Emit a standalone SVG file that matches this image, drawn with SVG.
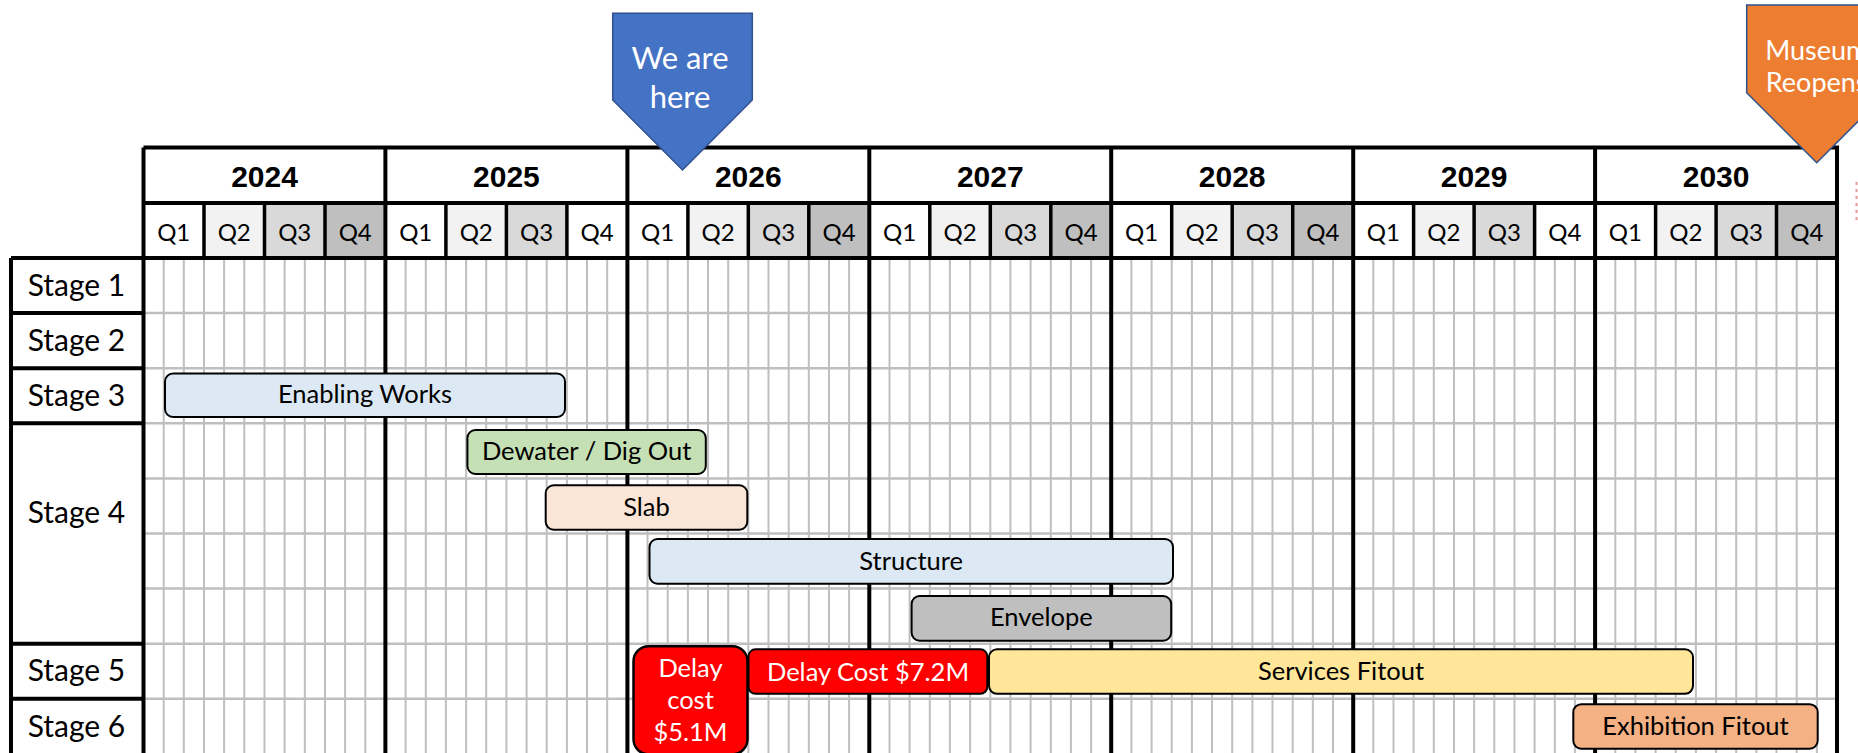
<svg xmlns="http://www.w3.org/2000/svg" width="1858" height="753" viewBox="0 0 1858 753">
<style>
.lt{font-family:Lato,"Liberation Sans",sans-serif;font-weight:400;text-anchor:middle;fill:#000}
.yr{font-family:"Liberation Sans",Arial,sans-serif;font-weight:bold;font-size:30px;text-anchor:middle;fill:#000}
.q{font-size:24px}
.st{font-size:30px}
.bt{font-size:25.5px}
.wt{fill:#fff}
.thin{stroke:#bfbfbf;stroke-width:2;fill:none}
.hthin{stroke:#bfbfbf;stroke-width:2.5;fill:none}
.blk{stroke:#000;stroke-width:4;fill:none}
.bar{stroke:#000;stroke-width:2}
.mk{stroke:#2f528f;stroke-width:1.5}
</style>
<rect width="1858" height="753" fill="#fff"/>
<g id="grid">
<path class="thin" d="M163.7 258V753M183.8 258V753M204 258V753M224.1 258V753M244.3 258V753M264.5 258V753M284.6 258V753M304.8 258V753M325 258V753M345.1 258V753M365.3 258V753M405.6 258V753M425.8 258V753M445.9 258V753M466.1 258V753M486.2 258V753M506.4 258V753M526.6 258V753M546.7 258V753M566.9 258V753M587 258V753M607.2 258V753M647.5 258V753M667.7 258V753M687.9 258V753M708 258V753M728.2 258V753M748.3 258V753M768.5 258V753M788.7 258V753M808.8 258V753M829 258V753M849.1 258V753M889.5 258V753M909.6 258V753M929.8 258V753M949.9 258V753M970.1 258V753M990.3 258V753M1010.4 258V753M1030.6 258V753M1050.8 258V753M1070.9 258V753M1091.1 258V753M1131.4 258V753M1151.6 258V753M1171.7 258V753M1191.9 258V753M1212 258V753M1232.2 258V753M1252.4 258V753M1272.5 258V753M1292.7 258V753M1312.8 258V753M1333 258V753M1373.3 258V753M1393.5 258V753M1413.6 258V753M1433.8 258V753M1454 258V753M1474.1 258V753M1494.3 258V753M1514.5 258V753M1534.6 258V753M1554.8 258V753M1574.9 258V753M1615.3 258V753M1635.4 258V753M1655.6 258V753M1675.7 258V753M1695.9 258V753M1716.1 258V753M1736.2 258V753M1756.4 258V753M1776.5 258V753M1796.7 258V753M1816.9 258V753"/>
<path class="hthin" d="M143.5 313.1H1837M143.5 368.2H1837M143.5 423.3H1837M143.5 478.4H1837M143.5 533.5H1837M143.5 588.6H1837M143.5 643.7H1837M143.5 698.8H1837"/>
</g>
<g id="quarter-fills">
<rect x="203.98" y="203" width="60.49" height="55" fill="#f2f2f2"/>
<rect x="264.47" y="203" width="60.48" height="55" fill="#d9d9d9"/>
<rect x="324.95" y="203" width="60.48" height="55" fill="#bfbfbf"/>
<rect x="445.92" y="203" width="60.48" height="55" fill="#f2f2f2"/>
<rect x="506.40" y="203" width="60.48" height="55" fill="#d9d9d9"/>
<rect x="687.85" y="203" width="60.48" height="55" fill="#f2f2f2"/>
<rect x="748.33" y="203" width="60.48" height="55" fill="#d9d9d9"/>
<rect x="808.81" y="203" width="60.49" height="55" fill="#bfbfbf"/>
<rect x="929.78" y="203" width="60.48" height="55" fill="#f2f2f2"/>
<rect x="990.26" y="203" width="60.49" height="55" fill="#d9d9d9"/>
<rect x="1050.75" y="203" width="60.48" height="55" fill="#bfbfbf"/>
<rect x="1171.71" y="203" width="60.48" height="55" fill="#f2f2f2"/>
<rect x="1232.19" y="203" width="60.49" height="55" fill="#d9d9d9"/>
<rect x="1292.68" y="203" width="60.48" height="55" fill="#bfbfbf"/>
<rect x="1413.64" y="203" width="60.49" height="55" fill="#f2f2f2"/>
<rect x="1474.13" y="203" width="60.48" height="55" fill="#d9d9d9"/>
<rect x="1655.58" y="203" width="60.48" height="55" fill="#f2f2f2"/>
<rect x="1716.06" y="203" width="60.48" height="55" fill="#d9d9d9"/>
<rect x="1776.54" y="203" width="60.48" height="55" fill="#bfbfbf"/>
</g>
<g id="frame">
<path class="blk" d="M143.5 147.5H1837V753M143.5 147.5V753M143.5 203H1837M11 258H1837M385.4 147.5V753M627.4 147.5V753M869.3 147.5V753M1111.2 147.5V753M1353.2 147.5V753M1595.1 147.5V753"/>
<path class="blk" style="stroke-width:3.5" d="M204 203V258M264.5 203V258M325 203V258M445.9 203V258M506.4 203V258M566.9 203V258M687.9 203V258M748.3 203V258M808.8 203V258M929.8 203V258M990.3 203V258M1050.8 203V258M1171.7 203V258M1232.2 203V258M1292.7 203V258M1413.6 203V258M1474.1 203V258M1534.6 203V258M1655.6 203V258M1716.1 203V258M1776.5 203V258"/>
<path class="blk" d="M11 258V753M11 313.1H143.5M11 368.2H143.5M11 423.3H143.5M11 643.7H143.5M11 698.8H143.5"/>
</g>
<g id="years">
<text class="yr" x="264.5" y="187">2024</text>
<text class="yr" x="506.4" y="187">2025</text>
<text class="yr" x="748.3" y="187">2026</text>
<text class="yr" x="990.3" y="187">2027</text>
<text class="yr" x="1232.2" y="187">2028</text>
<text class="yr" x="1474.1" y="187">2029</text>
<text class="yr" x="1716.1" y="187">2030</text>
</g>
<g id="quarters" class="lt q">
<text x="173.7" y="240.5">Q1</text><text x="234.2" y="240.5">Q2</text><text x="294.7" y="240.5">Q3</text><text x="355.2" y="240.5">Q4</text>
<text x="415.7" y="240.5">Q1</text><text x="476.2" y="240.5">Q2</text><text x="536.6" y="240.5">Q3</text><text x="597.1" y="240.5">Q4</text>
<text x="657.6" y="240.5">Q1</text><text x="718.1" y="240.5">Q2</text><text x="778.6" y="240.5">Q3</text><text x="839.1" y="240.5">Q4</text>
<text x="899.5" y="240.5">Q1</text><text x="960" y="240.5">Q2</text><text x="1020.5" y="240.5">Q3</text><text x="1081" y="240.5">Q4</text>
<text x="1141.5" y="240.5">Q1</text><text x="1202" y="240.5">Q2</text><text x="1262.4" y="240.5">Q3</text><text x="1322.9" y="240.5">Q4</text>
<text x="1383.4" y="240.5">Q1</text><text x="1443.9" y="240.5">Q2</text><text x="1504.4" y="240.5">Q3</text><text x="1564.9" y="240.5">Q4</text>
<text x="1625.3" y="240.5">Q1</text><text x="1685.8" y="240.5">Q2</text><text x="1746.3" y="240.5">Q3</text><text x="1806.8" y="240.5">Q4</text>
</g>
<g id="stages" class="lt st">
<text x="76.5" y="295.5">Stage 1</text>
<text x="76.5" y="351">Stage 2</text>
<text x="76.5" y="406">Stage 3</text>
<text x="76.5" y="523">Stage 4</text>
<text x="76.5" y="681">Stage 5</text>
<text x="76.5" y="737">Stage 6</text>
</g>
<g id="connectors"></g>
<g id="enabling-works">
<rect class="bar" x="165" y="373.5" width="400" height="43.5" rx="8" fill="#dce9f5"/>
<text class="lt bt" x="365" y="403.3">Enabling Works</text>
</g>
<g id="dewater">
<rect class="bar" x="467.4" y="430" width="238.4" height="44" rx="8" fill="#c5e0b4"/>
<text class="lt bt" x="586.6" y="460.3">Dewater / Dig Out</text>
</g>
<g id="slab">
<rect class="bar" x="545.7" y="485.3" width="201.6" height="44.4" rx="8" fill="#fbe5d6"/>
<text class="lt bt" x="646.5" y="516.3">Slab</text>
</g>
<g id="structure">
<rect class="bar" x="649.5" y="539" width="523.5" height="44.7" rx="8" fill="#dce9f5"/>
<text class="lt bt" x="911.2" y="569.7">Structure</text>
</g>
<g id="envelope">
<rect class="bar" x="911.6" y="596" width="259.6" height="44.7" rx="8" fill="#bfbfbf"/>
<text class="lt bt" x="1041.4" y="626.3">Envelope</text>
</g>
<g id="delay-cost-5">
<rect class="bar" style="stroke-width:2.5" x="633.5" y="646.3" width="114" height="108" rx="15" fill="#ff0000"/>
<text class="lt bt wt" x="690.5" y="676.7">Delay</text>
<text class="lt bt wt" x="690.5" y="709">cost</text>
<text class="lt bt wt" x="690.5" y="741">$5.1M</text>
</g>
<g id="delay-cost-7">
<rect class="bar" x="748.5" y="649.3" width="238.8" height="44.5" rx="7" fill="#ff0000"/>
<text class="lt bt wt" x="868" y="680.7">Delay Cost $7.2M</text>
</g>
<g id="services-fitout">
<rect class="bar" x="989" y="649.3" width="704" height="44.5" rx="8" fill="#ffe699"/>
<text class="lt bt" x="1341" y="679.7">Services Fitout</text>
</g>
<g id="exhibition-fitout">
<rect class="bar" x="1573.3" y="704.2" width="244.4" height="44.5" rx="8" fill="#f4b183"/>
<text class="lt bt" x="1695.5" y="734.7">Exhibition Fitout</text>
</g>
<g id="we-are-here">
<polygon class="mk" points="612.7,13.3 752.3,13.3 752.3,100 682.5,170 612.7,100" fill="#4472c4"/>
<text class="lt wt" style="font-size:31px" x="680" y="69.3">We are</text>
<text class="lt wt" style="font-size:31px" x="680" y="108.3">here</text>
</g>
<g id="museum-reopens">
<polygon class="mk" points="1746.7,5 1886.7,5 1886.7,92.7 1816.7,162.7 1746.7,92.7" fill="#ed7d31"/>
<text class="lt wt" style="font-size:27px" x="1816.7" y="60">Museum</text>
<text class="lt wt" style="font-size:27px" x="1816.7" y="92">Reopens</text>
</g>
<path d="M1856.5 182V221" stroke="#d9534f" stroke-opacity="0.6" stroke-width="2" stroke-dasharray="3 4" fill="none"/>
</svg>
